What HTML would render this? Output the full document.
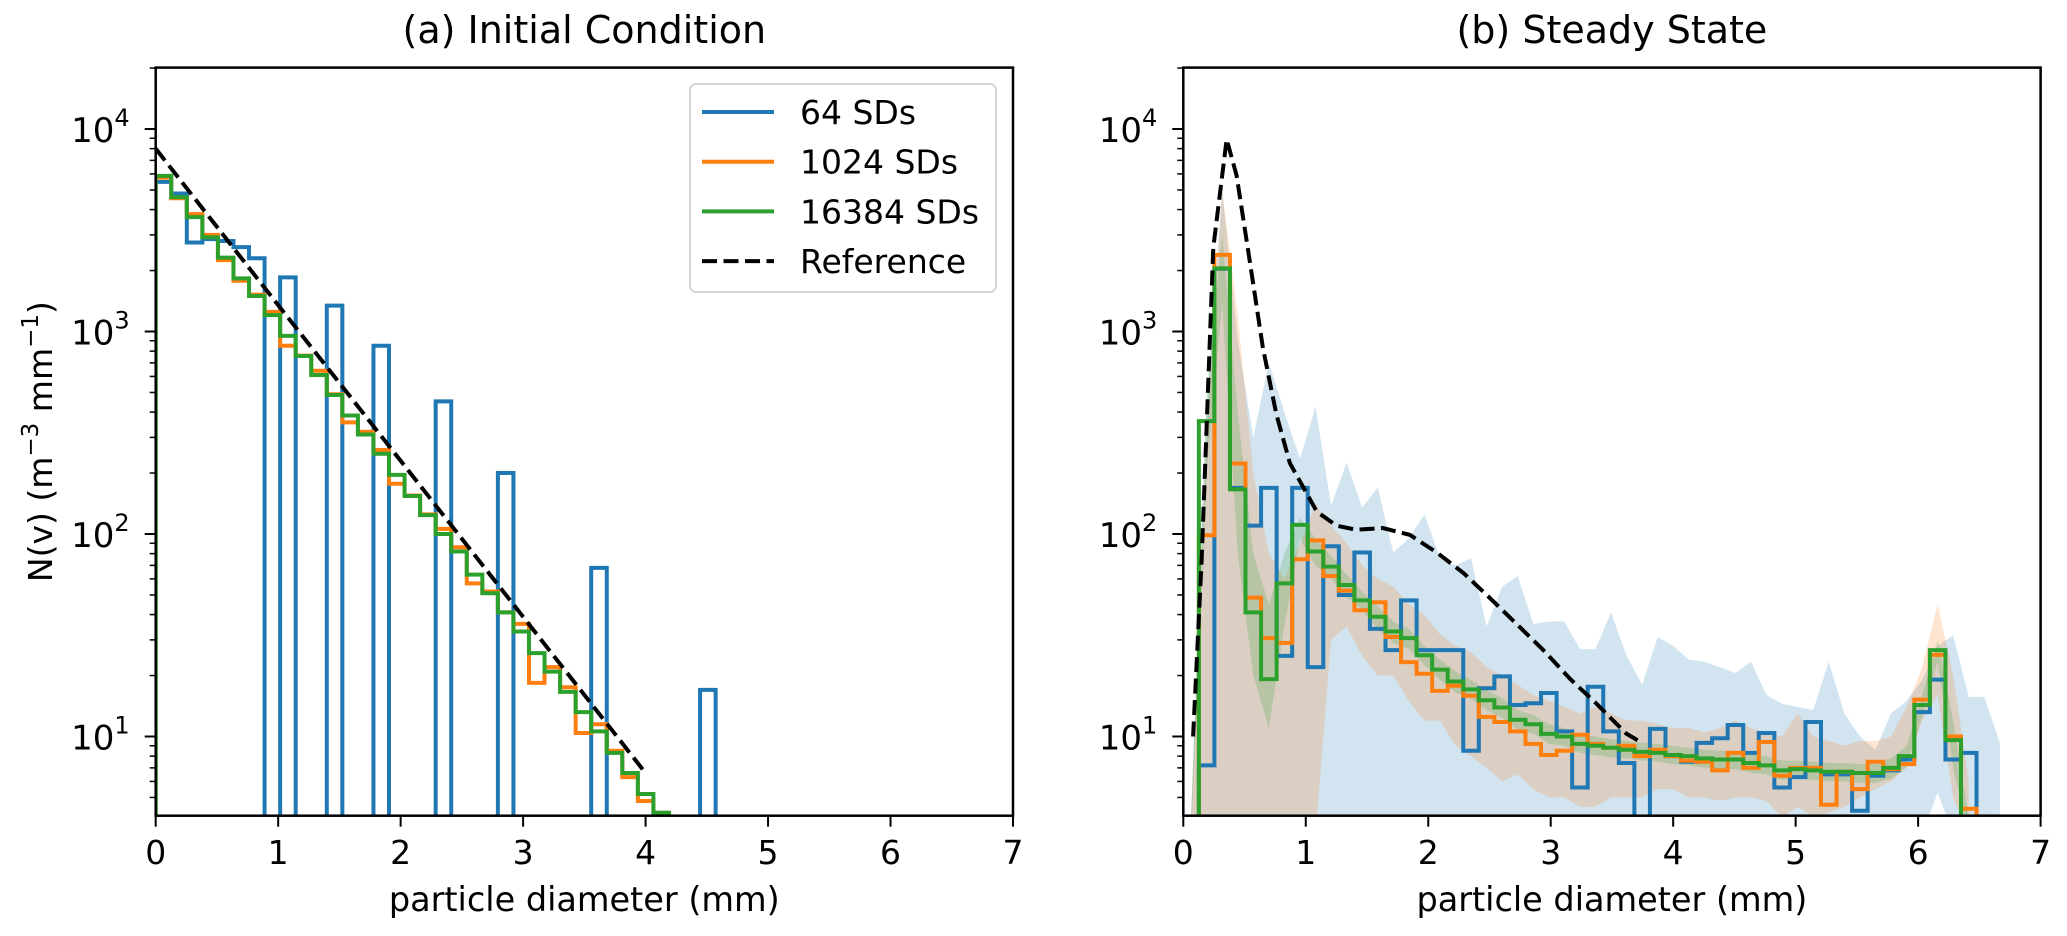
<!DOCTYPE html>
<html><head><meta charset="utf-8"><style>
html,body{margin:0;padding:0;background:#fff;}
svg{display:block;font-family:"DejaVu Sans","Liberation Sans",sans-serif;}
</style></head><body>
<svg id="fig" width="2067" height="936" viewBox="0 0 2067 936" xmlns="http://www.w3.org/2000/svg">
<defs>
<clipPath id="clipL"><rect x="155.7" y="67.6" width="857.3" height="748.1"/></clipPath>
<clipPath id="clipR"><rect x="1183.3" y="67.6" width="857.3" height="748.1"/></clipPath>
</defs>
</svg>
<script>
// ---- data ----
const binWidth = 0.127;
const xTicks = [0,1,2,3,4,5,6,7];
const yDecades = [1,2,3,4];
// panel (a) initial condition
const aBlue = [5480,4800,2750,2860,2800,2610,2300,0,1850,0,0,1343,0,0,850,0,0,0,452,0,0,0,200,0,0,0,0,0,68,0,0,0,0,0,0,17,0];
const aOrange = [5750,4550,3800,3000,2250,1780,1520,1250,850,760,640,490,356,320,260,177,155,125,106,86,57,52,41,36,18.4,22,17.5,10.4,11.5,8.5,6.3,4.8,4.2];
const aGreen = [5870,4610,3670,2920,2315,1830,1497,1205,952,757,610,486,385,310,249,196,154,124,100,82,63,51,41,33,25.8,20.9,16.6,13.2,10.6,8.3,6.6,5.2,4.2];
const aRefX = [0,1,2,3,4.0];
const aRefY = [8000,1350,230,39,6.6];
// panel (b) steady state
const bBlue = [0,7.2,2040,169,110,169,25,169,22,87,50,81,34,26.7,47,26.7,26.7,26.7,8.5,17.3,19.8,14.3,14.6,16.4,10.6,5.6,17.6,10.6,7.4,0,10.9,8.0,7.5,9.3,9.8,11.4,8.3,10.4,5.6,6.3,11.8,6.5,6.5,4.3,6.4,6.8,7.7,13.2,19.1,7.7,8.3];
const bOrange = [0,98.6,2390,223,48.5,30.6,29,75,93,62,52.5,42,46,31,23.3,20.4,16.8,17.8,15.9,12.5,11.8,10.6,9.2,8.1,8.5,10.2,9.2,8.8,9.0,8.0,8.6,8.0,7.6,7.5,6.8,8.3,7.0,9.4,6.4,7.0,7.0,4.6,6.7,5.5,7.5,6.9,7.3,15.2,25.3,10,4.4];
const bGreen = [0,361,2050,166,41,19.2,57,111,82,69,56,47,39,33,30.6,25.2,21.4,18.7,17.1,15.1,13.9,12.1,11.5,10.3,10,9.2,9.0,8.8,8.6,8.4,8.3,8.1,8.0,7.8,7.7,7.7,7.4,7.2,6.8,6.9,6.8,6.7,6.7,6.6,6.6,7.0,8.0,14.3,26.7,9.6,0];
const bBlueUp = [4,400,5000,900,300,700,400,235,425,138,225,135,170,81,95,125,76,70,76,35,55,62,36,37,37,27,27,41,25,18,31,28,24,23.4,22,20.6,23.4,16,14.5,14,13.5,23.4,13,10,8.6,13,15,19,28,31.6,15.7,15.7,9.3];
const bBlueLow = [0,0,0,0,0,0,0,0,0,0,0,0,0,0,0,0,0,0,0,0,0,0,0,0,0,0,0,0,0,0,0,0,0,0,0,0,0,0,0,0,0,0,0,0,0,0,0,0,5.3,0,0,0,0];
const bOrUp = [4,300,5000,1200,200,80,60,90,140,110,90,70,60,55,45,40,32,28,26,22,20,18,16,15,14,13,14,13,12,12,11.5,11,11,10.5,11,12,11,10.5,10,13,10,9.5,9,9.5,9.5,10,14,22,45,20,6];
const bOrLow = [0,0,0,0,0,0,0,0,0,30,35,25,20,20,15,12,12,9,8,7,6,6.5,5.5,5,5,4.5,4.5,5,5,5,5.5,5.5,5,5,4.8,5,5,4.8,4,4.5,4,4.2,4.5,5,5.5,6,7,12,16,5,0];
const bGrUp = [4,500,3000,400,80,45,80,120,95,78,63,52,44,37,34,28,24,21,19,17,15.5,13.5,12.8,11.5,11,10.2,10,9.7,9.5,9.3,9.2,9,8.8,8.6,8.5,8.5,8.2,8,7.6,7.6,7.5,7.4,7.4,7.3,7.3,7.8,9,16,30,12,4];
const bGrLow = [0,200,1400,80,20,11,35,95,70,60,49,42,34,29,27,22.5,19,16.5,15.3,13.5,12.4,10.8,10.3,9.2,9,8.3,8.1,7.9,7.8,7.6,7.5,7.3,7.2,7,6.9,6.9,6.6,6.5,6.1,6.2,6.1,6,6,5.9,5.9,6.2,7.1,12.5,23.5,7,0];
const bRefX = [0.08,0.15,0.245,0.354,0.435,0.544,0.65,0.76,0.87,0.98,1.09,1.25,1.41,1.63,1.85,2.07,2.29,2.5,2.72,2.94,3.16,3.37,3.54,3.62,3.72];
const bRefY = [10,75,2600,8900,5900,2200,830,390,224,170,129,110,105,107,99,81,64,48.5,36,26.7,19.2,14.6,11.5,10.3,9.5];
const legendLabels = ["64 SDs","1024 SDs","16384 SDs","Reference"];

// ---- layout ----
const NS = "http://www.w3.org/2000/svg";
const svg = document.getElementById('fig');
const PX = 122.47, Y_TOP = 67.6, Y_BOT = 815.7;
const C = {blue:"#1f77b4", orange:"#ff7f0e", green:"#2ca02c"};
function xs(x0, mm){ return x0 + mm*PX; }
function ys(v){ return v<=0 ? Y_BOT+20 : 736.5 - (Math.log10(v)-1)*202.5; }
function mk(tag, attrs, parent){ const e=document.createElementNS(NS,tag); for(const k in attrs) e.setAttribute(k,attrs[k]); (parent||svg).appendChild(e); return e; }

function stepPath(x0, vals){
  let d = `M${xs(x0,0)},${Y_BOT+20}`;
  vals.forEach((v,i)=>{ d += ` L${xs(x0,i*binWidth)},${ys(v)} L${xs(x0,(i+1)*binWidth)},${ys(v)}`; });
  d += ` L${xs(x0,vals.length*binWidth)},${Y_BOT+20}`;
  return d;
}
function bandPath(x0, up, low){
  let d='';
  up.forEach((v,i)=>{ d += (i?' L':'M')+xs(x0,(i+0.5)*binWidth)+','+ys(v); });
  for(let i=low.length-1;i>=0;i--) d += ' L'+xs(x0,(i+0.5)*binWidth)+','+Math.min(ys(low[i]),Y_BOT+20);
  return d+' Z';
}
function linePath(x0, xa, ya){ return xa.map((x,i)=>(i?'L':'M')+xs(x0,x)+','+ys(ya[i])).join(' '); }

function axes(x0, key, title){
  const g = mk('g',{});
  
  
  const t = mk('text',{x:x0+428.6,y:43,'font-size':38,'text-anchor':'middle',fill:'#000'},g);
  t.textContent = title;
  
  
  xTicks.forEach(v=>{
    const x=xs(x0,v);
    mk('line',{x1:x,x2:x,y1:Y_BOT,y2:Y_BOT+11,stroke:'#000','stroke-width':2},g);
    const tl=mk('text',{x:x,y:864,'font-size':33,'text-anchor':'middle'},g);
    tl.textContent=String(v);
    
    
  });
  for(let d=0; d<=4; d++){
    for(let m=1;m<=9;m++){
      const v=m*Math.pow(10,d); const y=ys(v);
      if(y<Y_TOP-0.5||y>Y_BOT+0.5) continue;
      mk('line',{x1:x0,x2:x0-(m===1?11:6),y1:y,y2:y,stroke:'#000','stroke-width':m===1?2:1.5},g);
    }
  }
  yDecades.forEach(d=>{
    const y=ys(Math.pow(10,d));
    const tl=mk('text',{x:x0-26,y:y+13,'font-size':34,'text-anchor':'end'},g);
    tl.innerHTML='10<tspan font-size="24" dy="-16">'+d+'</tspan>';
    
    
  });
  const xl=mk('text',{x:x0+428.6,y:911,'font-size':33.5,'text-anchor':'middle'},g);
  xl.textContent='particle diameter (mm)';
  
  
  return g;
}
function frame(x0,key){
  const r=mk('rect',{x:x0,y:Y_TOP,width:857.3,height:Y_BOT-Y_TOP,fill:'none',stroke:'#000','stroke-width':2.5});
  
  
}

// ---- panel a ----
const LX=155.7, RX=1183.3;
axes(LX,'panel-a','(a) Initial Condition');
const gA = mk('g',{'clip-path':'url(#clipL)'});
[[aBlue,C.blue,'a-blue-hist'],[aOrange,C.orange,'a-orange-hist'],[aGreen,C.green,'a-green-hist']].forEach(s=>{
  const p=mk('path',{d:stepPath(LX,s[0]),fill:'none',stroke:s[1],'stroke-width':4,'stroke-linejoin':'miter'},gA);
  
  
});
const refA=mk('path',{d:linePath(LX,aRefX,aRefY),fill:'none',stroke:'#000','stroke-width':4,'stroke-dasharray':'15 6.5'},gA);


frame(LX,'panel-a');

// ---- panel b ----
axes(RX,'panel-b','(b) Steady State');
const gB = mk('g',{'clip-path':'url(#clipR)'});
[[bBlueUp,bBlueLow,C.blue,'b-blue-band'],[bOrUp,bOrLow,C.orange,'b-orange-band'],[bGrUp,bGrLow,C.green,'b-green-band']].forEach(s=>{
  const p=mk('path',{d:bandPath(RX,s[0],s[1]),fill:s[2],'fill-opacity':0.2,stroke:'none'},gB);
  
  
});
[[bBlue,C.blue,'b-blue-hist'],[bOrange,C.orange,'b-orange-hist'],[bGreen,C.green,'b-green-hist']].forEach(s=>{
  const p=mk('path',{d:stepPath(RX,s[0]),fill:'none',stroke:s[1],'stroke-width':4},gB);
  
  
});
const refB=mk('path',{d:linePath(RX,bRefX,bRefY),fill:'none',stroke:'#000','stroke-width':4,'stroke-dasharray':'15 6.5'},gB);


frame(RX,'panel-b');

// ---- y label ----
const yl=mk('text',{x:0,y:0,'font-size':33,'text-anchor':'middle',transform:'translate(52,441.6) rotate(-90)'});
yl.innerHTML='N(v) (m<tspan font-size="23" dy="-14">−3</tspan><tspan dy="14"> mm</tspan><tspan font-size="23" dy="-14">−1</tspan><tspan dy="14">)</tspan>';



// ---- legend ----
const lg=mk('g',{});


mk('rect',{x:690,y:84,width:306,height:208,rx:6,fill:'#fff','fill-opacity':0.8,stroke:'#d6d6d6','stroke-width':2},lg);
const legColors=[C.blue,C.orange,C.green,'#000'];
legendLabels.forEach((lab,i)=>{
  const y=112+i*49.7;
  const ln=mk('line',{x1:702,x2:774,y1:y,y2:y,stroke:legColors[i],'stroke-width':4,'stroke-dasharray':i===3?'15 6.5':'none'},lg);
  
  
  const t=mk('text',{x:800,y:y+12,'font-size':33},lg);
  t.textContent=lab;
  
  
});
</script>
</body></html>
